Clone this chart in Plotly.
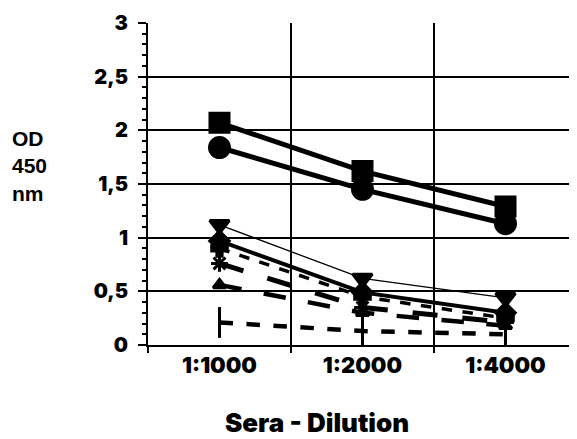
import plotly.graph_objects as go

dilutions = ["1:1000", "1:2000", "1:4000"]

s_square = [2.07, 1.62, 1.29]
s_circle = [1.84, 1.45, 1.13]
s_tri_down = [1.12, 0.62, 0.44]
s_diamond = [0.97, 0.49, 0.30]
s_plus = [0.90, 0.45, 0.25]
s_star = [0.76, 0.35, 0.21]
s_tri_up = [0.56, 0.30, 0.18]
s_bar = [0.21, 0.13, 0.10]

y_tickvals = [0, 0.5, 1, 1.5, 2, 2.5, 3]
y_ticktext = ["0", "0,5", "1", "1,5", "2", "2,5", "3"]

series = [
    (s_square, "square", 19, 5, "solid"),
    (s_circle, "circle", 20, 5, "solid"),
    (s_tri_down, "triangle-down", 17, 1.3, "solid"),
    (s_diamond, "diamond", 15, 4, "solid"),
    (s_plus, "cross", 13, 3.5, "dash"),
    (s_star, "asterisk-open", 14, 5, "longdash"),
    (s_tri_up, "triangle-up", 11, 4.5, "longdash"),
    (s_bar, "line-ns-open", 22, 4.5, "dash"),
]

fig = go.Figure()
for vals, sym, size, lw, dash in series:
    fig.add_trace(go.Scatter(
        x=dilutions, y=vals, mode="lines+markers",
        line=dict(color="black", width=lw, dash=dash),
        marker=dict(symbol=sym, size=size, color="black",
                    line=dict(color="black", width=3)),
        showlegend=False,
    ))

heavy = "Inter, DejaVu Sans"

# page body has an 8px margin, so the figure is shrunk and shifted to compensate
fig.update_layout(
    width=569, height=431,
    margin=dict(l=140, r=0, t=15, b=94),
    paper_bgcolor="white", plot_bgcolor="white",
    font=dict(family="DejaVu Sans", color="black"),
)
fig.update_xaxes(
    type="category", range=[-0.5, 2.5],
    tickson="boundaries", ticks="outside", ticklen=6, tickwidth=2, tickcolor="black",
    showgrid=True, gridcolor="black", gridwidth=2,
    showline=True, linecolor="black", linewidth=2,
    tickfont=dict(family=heavy, size=22, color="black", weight=900),
)
fig.update_yaxes(
    range=[0, 3], tickvals=y_tickvals, ticktext=y_ticktext,
    ticks="outside", ticklen=8, tickwidth=2, tickcolor="black",
    minor=dict(dtick=0.1, ticks="outside", ticklen=4, tickwidth=1.5, tickcolor="black", showgrid=False),
    showgrid=True, gridcolor="black", gridwidth=2,
    showline=True, linecolor="black", linewidth=2,
    zeroline=False, ticklabelstandoff=6,
    tickfont=dict(family=heavy, size=20, color="black", weight=900),
)
fig.add_annotation(
    text="OD<br>450<br>nm", xref="paper", yref="paper", x=-0.322, y=0.556,
    xanchor="left", yanchor="middle", showarrow=False, align="left",
    font=dict(family="Liberation Sans", size=21, color="black", weight="bold"),
)
fig.add_annotation(
    text="Sera - Dilution", xref="paper", yref="paper", x=0.394, y=-0.242,
    xanchor="center", yanchor="middle", showarrow=False,
    font=dict(family=heavy, size=26, color="black", weight=900),
)

fig.write_html("out.html")
